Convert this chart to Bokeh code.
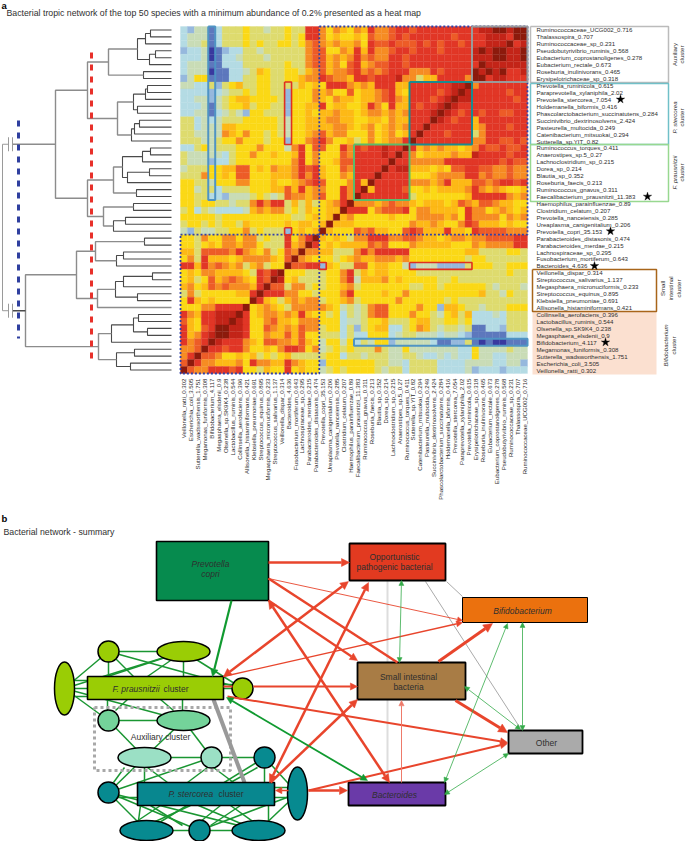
from bokeh.plotting import figure
from bokeh.models import Range1d, Arrow, NormalHead
from bokeh.embed import file_html
from bokeh.resources import INLINE
from bokeh.core.properties import value
import math

FONT = "Liberation Sans"
TXT = "#2f2f2f"

row_labels = [
 "Ruminococcaceae_UCG002_0.716","Thalassospira_0.707","Ruminococcaceae_sp_0.231","Pseudobutyrivibrio_ruminis_0.568",
 "Eubacterium_coprostanoligenes_0.278","Eubacterium_rectale_0.673","Roseburia_inulinivorans_0.465","Erysipelotrichaceae_sp_0.318",
 "Prevotella_ruminicola_0.615","Paraprevotella_xylaniphila_2.02","Prevotella_stercorea_7.054","Holdemanella_biformis_0.416",
 "Phascolarctobacterium_succinatutens_0.284","Succinivibrio_dextrinosolvens_2.424","Pasteurella_multocida_0.249",
 "Catenibacterium_mitsuokai_0.294","Sutterella_sp.YIT_0.82","Ruminococcus_torques_0.411","Anaerostipes_sp.5_0.27",
 "Lachnoclostridium_sp_0.215","Dorea_sp_0.214","Blautia_sp_0.352","Roseburia_faecis_0.213","Ruminococcus_gnavus_0.311",
 "Faecalibacterium_prausnitzii_11.383","Haemophilus_parainfluenzae_0.89","Clostridium_celatum_0.207","Prevotella_nanceiensis_0.285",
 "Ureaplasma_canigenitalium_0.206","Prevotella_copri_35.153","Parabacteroides_distasonis_0.474","Parabacteroides_merdae_0.215",
 "Lachnospiraceae_sp_0.295","Fusobacterium_mortiferum_0.643","Bacteroides_4.636","Veillonella_dispar_0.314",
 "Streptococcus_salivarius_1.137","Megasphaera_micronuciformis_0.233","Streptococcus_equinus_0.895","Klebsiella_pneumoniae_0.691",
 "Allisonella_histaminiformans_0.421","Collinsella_aerofaciens_0.396","Lactobacillus_ruminis_0.544","Olsenella_sp.SK9K4_0.238",
 "Megasphaera_elsdenii_0.9","Bifidobacterium_4.117","Megamonas_funiformis_0.308","Sutterella_wadsworthensis_1.751",
 "Escherichia_coli_3.505","Veillonella_ratti_0.302"]
col_labels = row_labels[::-1]

# heat levels (0 = lowest correlation ... c = highest), read row by row from the upper-left triangle
heat_levels = [
 "32441 35556 55455 655aa 86876 87a88 9aa9a aaaaa aaabb ccbcc",
 "34441 35556 55555 656aa 86766 76988 9a9aa aaaa9 aaaab bbac",
 "34451 35556 56556 65689 87877 86a99 a999a 9a9aa 9aaab bbc",
 "23340 12335 54555 55589 96687 a7a88 9aa9a aa9aa aabcb cc",
 "33340 13345 55455 55589 97878 a8988 aa9aa aaaaa aabbb c",
 "34441 13335 55555 65589 97869 a7899 aa9aa aaaaa aaacb",
 "34440 11334 57655 66578 97889 a8989 aaa88 8a9aa aacb",
 "24661 11335 56655 66788 a9887 aa9aa ab885 77aaa a8c",
 "44335 25675 56655 55767 6aaa8 787aa a77aa aaaab bc",
 "33332 34556 56655 26668 78669 67789 a76aa aa9ab c",
 "33442 45677 66665 26668 76877 67789 a87aa a9abc",
 "33341 45667 56655 26677 a6776 67a86 a77a9 aabc",
 "33441 34542 66555 26676 77877 67887 878aa abc",
 "55343 45556 66665 46677 78877 66776 877aa ac",
 "55344 47766 66665 46677 77887 67867 878aa c",
 "55444 48768 66565 46678 97886 66867 867ac",
 "55544 56686 66566 26689 a8667 56867 88ac",
 "33564 55566 68666 48a69 966a8 a9aab aac",
 "54444 43566 86676 67a68 66698 aaaab ac",
 "54442 33566 66666 68a68 66799 aaaaa c",
 "45556 67799 67687 78a9a 76698 aaaac",
 "55586 67699 66677 78a8a 76687 aaac",
 "66554 66688 66676 6789a 96668 a7c",
 "66455 35555 66677 97a78 866a8 ac",
 "66553 32444 56545 98878 966a8 c",
 "66566 55455 8a8aa 57575 678ac",
 "56354 33334 78788 56576 677c",
 "66666 56666 66666 65567 67c",
 "56656 56657 66666 76776 7c",
 "42544 55668 56555 26767 c",
 "66586 68868 85655 a68ac",
 "66567 68878 86555 a78c",
 "77599 998a8 76856 98c",
 "685a7 77678 88876 9c",
 "aa7a8 98785 78566 c",
 "67688 77776 5a9bc",
 "67569 78987 6a9c",
 "78679 89888 7ac",
 "58566 66677 ac",
 "6a767 66666 c",
 "66688 aaaac",
 "a87aa bbbc",
 "976aa bbc",
 "a769a cc",
 "a78abc",
 "a89ac",
 "889c",
 "8ac",
 "9c",
 "c"]

heat_palette = {"0":"#39399f","1":"#5d78bd","2":"#96b8dd","3":"#b4dbe4","4":"#c9dcb6","5":"#dedb6e","6":"#fbd816",
                "7":"#fdb916","8":"#f68c23","9":"#ed5c27","a":"#e13626","b":"#c32418","c":"#8c1a0c"}

# dendrogram merges: name, child, child, x position
dendro = [
 ("n1",0,1,150),("n2","n1",2,145),("n3",3,4,155),("n4","n3",5,149),("n5","n2","n4",137),("n6",6,7,143),("E","n5","n6",108),
 ("n7",8,9,147),("n8","n7",10,145),("n9",11,12,137),("F","n8","n9",133),("n10",13,14,139),("n11","n10",15,134),("n12","n11",16,131),
 ("G","F","n12",117),("H","E","G",87),
 ("n13",17,18,150),("n14","n13",19,142),("n15",20,21,149),("n16","n15",22,127),("n17","n14","n16",122),("n18",23,24,136),("I","n17","n18",113),
 ("n19",25,26,133),("n20",27,28,125),("n21","n20",29,113),("J","n19","n21",103),("K","I","J",87),("L","H","K",55),
 ("n22",30,31,144),("n23",32,33,123),("n24","n23",34,116),("M","n22","n24",95),
 ("n25",35,36,152),("n26","n25",37,123),("n27",38,39,137),("n28","n26","n27",115),("N","n28",40,97),("O","M","N",76),
 ("n29",41,42,138),("n30",43,44,147),("n31","n29","n30",133),("n32","n31",45,111),("n33",46,47,134),("n34",48,49,130),
 ("n35","n33","n34",116),("P","n32","n35",98),("Q","O","P",25)]
upper_merges = {"L","K","H","G","I","J","O","P","Q","E","N","M"}

# network parts: fill, x0, x1, y0, y1, line width
net_boxes = [
 ("#068b4e",156,268,541,600,1.6),("#9acd05",87,223,676,699,1.6),("#08878f",137,274,782,805,1.6),
 ("#e23a20",349,445,543,580,1.8),("#eb710e",462,587,597,622,1.0),("#a87c45",357,465,662,699,1.8),
 ("#aaaaaa",508,582,730,753,1.8),("#6a3aa8",348,445,782,805,1.8)]
net_nodes = {
 "T1":(108,651,21,21,"#9acd05"),"T2":(183,651,53,20,"#9acd05"),"T3":(64,688,20,53,"#9acd05"),"T4":(242,688,21,21,"#9acd05"),
 "A1":(108,720,21,21,"#74d39a"),"A2":(183,720,53,20,"#74d39a"),"A3":(144,757,53,20,"#9be0c5"),"A4":(211,757,21,21,"#9be0c5"),
 "S1":(264,757,21,21,"#078a90"),"S2":(108,792,21,21,"#078a90"),"S3":(297,793,20,53,"#078a90"),"S4":(146,830,53,20,"#078a90"),
 "S5":(199,830,21,21,"#078a90"),"S6":(258,830,53,20,"#078a90")}
green_links = [
 ("T1","T2"),("T1","T3"),("T1","T4"),("T2","T3"),("T2","T4"),("A1","A2"),("T3","A1"),("T3","A2"),("A1","A3"),("A2","A3"),("A2","A4"),
 ("A3","A4"),("A4","S1"),("S1","S3"),("A4","S2"),("S2","S4"),("S2","S5"),("S3","S5"),("S3","S6"),("S4","S5"),("S5","S6"),("S2","A3"),
 ("S4","S1"),("S6","S2")]
green_to_box = [
 (108,651,108,676),(108,651,133,676),(183,651,183,676),(183,651,147,676),(183,651,107,676),(64,688,87,688),(64,680,87,680),(64,696,87,696),
 (242,688,223,688),(242,684,223,684),(127,699,115,710),(107,699,107,710),(160,699,173,710),(182,699,182,710),(124,767,113,782),(144,767,144,782),(147,767,167,782),
 (207,767,187,782),(213,767,233,782),(257,767,230,782),(264,767,264,782),(108,797,137,797),(140,805,138,820),(160,805,130,825),(150,805,182,825),(190,805,146,825),
 (220,805,195,825),(198,805,245,825),(240,805,210,825),(230,805,258,825),(268,805,268,825),(274,797,297,797),(274,787,297,787)]

# start x, start y, end x, end y, width, head at start, head at end
red_arrows = [
 (268,562,349,562,2.5,0,1),(268,578,462,620,0.9,0,1),(268,578,397,662,2.5,0,0),(268,600,389,782,2.5,1,1),
 (223,676,348,581,2.5,1,1),(269,782,368,582,2.5,1,1),(223,676,462,622,1.4,0,1),(253,686,357,686,2,0,1),(223,686,232,686,2,0,0),
 (227,696,507,742,2,0,1),(268,600,357,660,2.2,0,1),(270,782,357,699,2.5,0,1),(308,790,507,743,2,0,1),
 (308,790,347,790,2.5,0,1),(288,790,275,790,1.6,0,1),(438,661,492,623,3,0,1),(455,700,507,732,3,0,1)]
pink_arrows = [(401,782,401,700,1.0,0,1)]
green_arrows = [(231,600,212,676,2.2,0,1),(226,697,367,780,1.8,1,1)]
thin_green_arrows = [(401,580,399,662),(522,622,522,730),(507,623,444,782),(464,686,520,729),(508,753,444,794)]
gray_links = [(425,581,520,728),(446,581,462,596)]

PAGE_W, PAGE_H = 685, 841
p = figure(width=PAGE_W, height=PAGE_H, output_backend="svg", toolbar_location=None,
           x_range=Range1d(0, PAGE_W), y_range=Range1d(PAGE_H, 0),
           x_axis_location=None, y_axis_location=None, min_border=0, outline_line_color=None)
p.grid.visible = False

def label(x, y, t, size=6.1, color=TXT, style="normal", align="left", angle=0.0, base="middle"):
    p.text([x], [y], text=[t], text_font=value(FONT), text_font_size=f"{size}px", text_color=color,
           text_font_style=style, text_align=align, text_baseline=base, angle=angle)

# ---------- panel a ----------
X0, Y0, CELL = 180.0, 26.0, 347.0/50
n = len(row_labels)
mat = [[None]*n for _ in range(n)]
for i, s in enumerate(heat_levels):
    s = s.replace(" ", "")
    assert len(s) == n - i, (i, len(s))
    for j, c in enumerate(s):
        mat[i][j] = c
        mat[n-1-j][n-1-i] = c
left, right, top, bottom, colors = [], [], [], [], []
for i in range(n):
    for j in range(n):
        left.append(X0+j*CELL); right.append(X0+(j+1)*CELL)
        top.append(Y0+i*CELL); bottom.append(Y0+(i+1)*CELL)
        colors.append(heat_palette[mat[i][j]])
p.quad(left=left, right=right, top=top, bottom=bottom, fill_color=colors, line_color=colors, line_width=0.3)

def box(c0, c1, r0, r1, color, width, dash="solid"):
    x0, x1 = X0+c0*CELL, X0+c1*CELL
    y0, y1 = Y0+r0*CELL, Y0+r1*CELL
    p.multi_line([[x0,x1,x1,x0,x0]], [[y0,y0,y1,y1,y0]], line_color=color, line_width=width, line_dash=dash)

DOT = "#3040a8"
box(0,20,30,50,DOT,1.8,"2 2")
box(20,50,0,30,DOT,1.8,"2 2")
box(42,50,0,8,"#9a9a9a",2)
box(33,42,8,17,"#1a8a8f",2)
box(25,33,17,25,"#5cbb6b",2)
box(4,5,0,25,"#4f94c4",2)
box(15,16,8,17,"#e03020",1.6)
box(15,16,29,30,"#e03020",1.6)
box(20,21,34,35,"#e03020",1.6)
box(33,42,34,35,"#e03020",1.6)
box(25,50,45,46,"#4f94c4",2)

# peach and outlined label groups
p.quad(left=[532], right=[656], top=[311], bottom=[374], fill_color="#fbe0d0", line_color=None)
for x0,x1,y0,y1,c in [(530,668,26,82,"#bbbbbb"),(530,668,83,144,"#70c0c8"),(530,668,144,201,"#98d890"),(532,656,269,311,"#a8651a")]:
    p.multi_line([[x0,x1,x1,x0,x0]], [[y0,y0,y1,y1,y0]], line_color=c, line_width=1.5)

# row and column labels
for i, t in enumerate(row_labels):
    label(536, Y0+(i+0.5)*CELL, t)
for j, t in enumerate(col_labels):
    label(X0+(j+0.5)*CELL, 378, t, align="right", angle=math.pi/2)

stars = [(620,10),(647,24),(610,29),(594,34),(605,45)]
p.scatter([s[0] for s in stars], [Y0+(s[1]+0.5)*CELL for s in stars], marker="star", size=9, fill_color="black", line_color="black", line_width=0.3)

ROT = math.pi/2
for x,y,t,st in [(674,54,"Auxiliary","normal"),(681,54,"cluster","normal"),(674,117,"P. stercorea","italic"),(681,117,"cluster","normal"),
                 (674,172,"F. prausnitzii","italic"),(681,172,"cluster","normal"),(662,288,"Small","normal"),(670,288,"intestinal","normal"),
                 (678,288,"cluster","normal"),(665,345,"Bifidobacterium","italic"),(673,345,"cluster","normal")]:
    label(x,y,t,size=6.1,style=st,align="center",angle=ROT)

# dendrogram
pos = {i:(171.0, Y0+(i+0.5)*CELL) for i in range(n)}
for name,a,b,x in dendro:
    xa,ya = pos[a]; xb,yb = pos[b]
    c = "#8c8c8c" if name in upper_merges else "#4a4a4a"
    w = 1.4 if name in upper_merges else 1.1
    p.line([xa,x,x,xb],[ya,ya,yb,yb], line_color=c, line_width=w)
    pos[name] = (x,(ya+yb)/2)
for name, col in (("L","#8c8c8c"),("Q","#4a4a4a")):
    x,y = pos[name]
    p.line([x,12],[y,y], line_color=col, line_width=1.4)
    p.line([8,2],[y,y], line_color="#9a9a9a", line_width=1)
    for bx in (8,12):
        p.line([bx,bx],[y-7,y+7], line_color="#9a9a9a", line_width=1)
yl, yq = pos["L"][1], pos["Q"][1]
p.line([2,2],[yl,yq], line_color="#9a9a9a", line_width=1)
p.line([18,18],[120,338], line_color="#2f3f9f", line_width=3, line_dash="6 6")
p.line([91,91],[52,363], line_color="#e8302a", line_width=3, line_dash="6 6")

# titles
label(1,5,"a",size=9.5,color="black",style="bold")
label(6,12,"Bacterial tropic network of the top 50 species with a minimum abundance of 0.2% presented as a heat map",size=8.75)
label(1,518,"b",size=9.5,color="black",style="bold")
label(3,531,"Bacterial network - summary",size=8.75)

# ---------- panel b ----------
G = "#1a9632"
p.segment(x0=[a[0] for a in gray_links], y0=[a[1] for a in gray_links], x1=[a[2] for a in gray_links], y1=[a[3] for a in gray_links],
          line_color="#aaaaaa", line_width=1)
p.segment(x0=[387], y0=[580], x1=[387], y1=[782], line_color="#dddddd", line_width=2)
gx0=[net_nodes[a][0] for a,b in green_links]+[e[0] for e in green_to_box]
gy0=[net_nodes[a][1] for a,b in green_links]+[e[1] for e in green_to_box]
gx1=[net_nodes[b][0] for a,b in green_links]+[e[2] for e in green_to_box]
gy1=[net_nodes[b][1] for a,b in green_links]+[e[3] for e in green_to_box]
p.segment(x0=gx0,y0=gy0,x1=gx1,y1=gy1,line_color=G,line_width=1.5)

p.multi_line([[94,230,230,94,94]],[[707,707,770,770,707]],line_color="#a8a8a8",line_width=3,line_dash="3 3")
p.segment(x0=[213],y0=[699],x1=[244],y1=[782],line_color="#999999",line_width=4)

def arrow(a, color):
    x0,y0,x1,y1,w,hs,he = a
    size = 3.5+w*1.8
    kw = {}
    if he: kw["end"] = NormalHead(size=size, fill_color=color, line_color=color, line_width=0.5)
    else: kw["end"] = None
    if hs: kw["start"] = NormalHead(size=size, fill_color=color, line_color=color, line_width=0.5)
    p.add_layout(Arrow(x_start=x0,y_start=y0,x_end=x1,y_end=y1,line_color=color,line_width=w,**kw))

for a in red_arrows: arrow(a,"#e8452c")
for a in pink_arrows: arrow(a,"#ee7a6a")
for a in green_arrows: arrow(a,"#109a30")
for a in thin_green_arrows: arrow((a[0],a[1],a[2],a[3],0.8,1,1),"#35ab4a")

p.ellipse(x=[v[0] for v in net_nodes.values()], y=[v[1] for v in net_nodes.values()],
          width=[v[2] for v in net_nodes.values()], height=[v[3] for v in net_nodes.values()],
          fill_color=[v[4] for v in net_nodes.values()], line_color="black", line_width=1.5)
p.quad(left=[b[1] for b in net_boxes], right=[b[2] for b in net_boxes], top=[b[3] for b in net_boxes], bottom=[b[4] for b in net_boxes],
       fill_color=[b[0] for b in net_boxes], line_color="black", line_width=[b[5] for b in net_boxes])

NS = 8.5
label(210,563,"Prevotella",NS,style="italic",align="center")
label(210,573,"copri",NS,style="italic",align="center")
label(112,688,"F. prausnitzii",NS,style="italic")
label(163,688,"cluster",NS)
label(168,793,"P. stercorea",NS,style="italic")
label(218,793,"cluster",NS)
label(394,556,"Opportunistic",NS,align="center")
label(394,566,"pathogenic bacterial",NS,align="center")
label(522,610,"Bifidobacterium",NS,style="italic",align="center")
label(408,676,"Small intestinal",NS,align="center")
label(408,686,"bacteria",NS,align="center")
label(546,742,"Other",NS,align="center")
label(394,794,"Bacteroides",NS,style="italic",align="center")
label(160,736,"Auxiliary cluster",NS,align="center")

open("out.html", "w").write(file_html(p, INLINE))
